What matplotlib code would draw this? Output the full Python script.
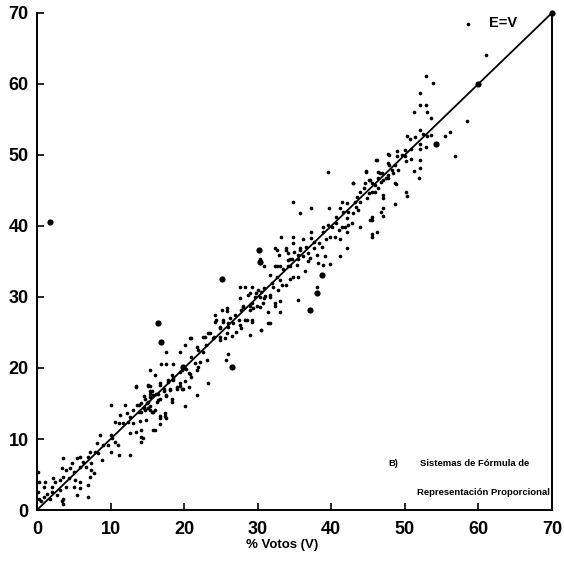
import matplotlib
matplotlib.use("Agg")
import matplotlib.pyplot as plt

# % votos (V) y % escaños (E)
puntos = [
    (13.5, 17.5), (15.3, 17.5), (16.5, 16.4), (14.7, 15.7), (15.4, 15.9), (10.1, 14.8), (11.9, 14.8),
    (13.6, 14.8), (14.2, 13.8), (15.1, 14.4), (16.0, 14.1), (16.3, 15.2), (12.2, 13.6), (12.6, 13.1),
    (11.3, 13.4), (10.6, 12.4), (11.1, 12.2), (11.7, 12.2), (12.4, 12.4), (13.1, 12.2), (13.5, 11.0),
    (12.6, 10.8), (14.2, 11.3), (14.4, 10.1), (14.2, 9.6), (16.0, 11.3), (8.6, 10.6), (10.0, 10.6),
    (10.2, 10.1), (10.6, 9.6), (11.0, 9.2), (9.7, 9.2), (9.0, 9.2), (8.1, 9.4), (7.9, 8.2), (8.3, 8.0),
    (7.2, 8.2), (7.0, 7.5), (8.8, 7.0), (10.0, 8.2), (11.1, 7.8), (12.6, 7.8), (5.8, 7.5), (5.4, 7.3),
    (6.3, 6.8), (4.8, 6.6), (3.6, 7.3), (3.4, 5.9), (4.0, 5.6), (4.5, 5.9), (5.0, 5.4), (5.8, 6.1),
    (7.4, 6.6), (7.4, 5.7), (7.7, 5.2), (7.2, 4.7), (6.7, 6.1), (2.2, 4.5), (2.4, 4.0), (3.1, 4.2),
    (3.6, 4.7), (4.3, 4.5), (5.2, 4.2), (5.8, 4.0), (5.0, 3.3), (4.0, 3.3), (3.1, 2.8), (2.0, 3.3),
    (1.1, 4.0), (0.9, 3.3), (1.3, 2.3), (2.0, 2.6), (2.7, 2.1), (0.9, 1.9), (1.8, 1.6), (3.6, 1.6),
    (3.4, 1.2), (5.4, 2.1), (7.0, 1.9), (7.0, 3.5), (5.8, 3.1), (0.3, 4.0), (0.3, 1.5), (0.6, 1.2),
    (3.5, 0.8), (0.2, 5.3), (0.2, 2.5),
    (24.2, 27.5), (25.1, 28.2), (25.8, 28.0), (24.2, 26.5), (25.3, 26.8), (26.0, 26.3), (23.5, 24.9),
    (24.9, 25.8), (23.9, 24.2), (25.6, 24.2), (24.9, 23.9), (21.0, 24.2), (22.6, 24.4), (21.7, 23.0),
    (23.0, 23.2), (21.9, 22.5), (22.6, 22.3), (17.6, 22.3), (19.4, 22.3), (20.1, 23.2), (21.0, 21.6),
    (16.9, 20.6), (17.6, 20.6), (18.5, 20.6), (19.4, 19.5), (20.6, 19.3), (21.7, 19.7), (22.2, 20.9),
    (23.1, 21.1), (15.4, 19.7), (16.0, 19.0), (17.8, 18.3), (18.5, 18.6), (19.4, 17.9), (20.1, 18.2),
    (20.6, 17.3), (19.0, 17.3), (19.7, 17.1), (16.7, 17.9), (17.2, 17.1), (18.1, 16.9), (17.6, 16.2),
    (18.3, 15.7), (23.3, 17.9), (21.7, 16.2), (15.1, 17.6), (15.4, 16.7), (15.8, 16.2), (14.5, 16.0),
    (14.9, 15.1), (13.8, 14.8), (14.5, 14.3), (15.4, 14.6), (13.5, 17.3), (20.1, 14.6), (13.1, 14.1),
    (13.8, 13.8), (14.7, 14.1), (15.8, 13.8), (16.7, 13.2), (17.4, 13.2), (26.0, 22.0), (25.7, 21.1),
    (34.8, 43.4), (35.7, 41.8), (33.2, 38.5), (34.8, 38.5), (34.8, 37.6), (35.7, 36.9), (36.6, 37.1),
    (32.6, 36.6), (33.9, 36.6), (30.8, 34.3), (32.9, 35.9), (34.1, 35.2), (34.6, 35.4), (35.5, 35.9),
    (36.2, 35.7), (32.6, 34.3), (33.5, 34.0), (34.1, 34.3), (35.3, 34.5), (36.4, 33.6), (36.9, 35.0),
    (34.4, 32.6), (34.8, 32.8), (35.5, 32.8), (32.6, 32.8), (33.0, 32.4), (33.3, 31.7), (32.8, 31.0),
    (31.7, 33.1), (30.8, 31.2), (32.1, 31.4), (27.6, 31.4), (28.3, 31.4), (29.2, 31.4), (30.1, 31.0),
    (30.3, 30.0), (29.6, 30.0), (28.7, 30.3), (27.6, 29.8), (31.7, 30.0), (30.8, 29.8), (33.0, 29.5),
    (35.5, 29.6), (25.8, 28.4), (24.4, 26.7), (25.3, 26.5), (26.2, 27.0), (28.0, 28.7), (28.9, 28.7),
    (27.8, 28.2), (29.2, 29.1), (29.4, 28.4), (29.9, 28.7), (26.9, 27.4), (27.4, 26.7), (26.7, 26.3),
    (27.6, 26.0), (28.5, 26.7), (29.2, 26.5), (31.4, 27.9), (32.3, 28.7), (33.0, 27.9), (31.7, 26.3),
    (30.5, 25.3), (29.0, 24.7), (24.9, 25.6), (26.0, 25.8), (25.8, 24.9), (27.1, 25.1), (20.8, 24.2),
    (22.8, 24.4), (23.3, 24.9), (24.0, 24.4), (24.9, 24.4), (26.5, 24.5),
    (47.7, 50.2), (46.2, 49.3), (47.7, 48.8), (44.7, 47.6), (46.4, 47.6), (46.9, 47.4), (47.7, 47.2),
    (45.3, 46.5), (45.9, 45.8), (47.0, 46.5), (47.5, 46.7), (39.6, 47.6), (43.0, 46.0), (43.9, 44.8),
    (44.4, 45.3), (45.1, 44.6), (45.5, 44.8), (46.0, 44.8), (46.4, 45.3), (44.8, 43.9), (43.5, 44.1),
    (43.2, 43.4), (43.9, 43.4), (47.0, 43.9), (47.1, 42.5), (46.8, 42.0), (45.5, 41.3), (45.3, 40.9),
    (45.5, 38.9), (46.2, 39.1), (45.5, 38.4), (41.4, 43.4), (42.1, 43.3), (41.2, 42.5), (41.6, 42.0),
    (42.3, 42.0), (43.0, 41.8), (43.6, 42.3), (43.4, 42.7), (37.3, 42.5), (39.7, 42.5), (40.7, 41.3),
    (42.1, 41.1), (42.3, 40.1), (41.9, 39.9), (41.4, 39.9), (42.8, 40.4), (43.9, 39.9), (38.9, 39.9),
    (39.6, 40.1), (40.1, 39.9), (40.7, 40.4), (41.0, 39.4), (37.3, 39.2), (38.9, 39.2), (39.8, 38.5),
    (40.5, 38.5), (39.3, 38.1), (41.2, 38.1), (42.1, 39.2), (42.1, 36.9), (36.1, 38.1), (37.3, 38.3),
    (37.7, 37.8), (38.4, 37.6), (38.7, 37.1), (37.7, 36.9), (35.7, 36.6), (34.1, 36.2), (35.0, 36.4),
    (36.9, 36.2), (38.0, 35.9), (39.1, 35.7), (39.8, 34.7), (41.2, 35.7), (32.3, 36.9), (33.9, 36.9),
    (34.4, 35.3), (35.5, 35.3), (37.1, 35.5), (38.2, 34.8), (38.9, 34.5), (34.4, 34.3), (33.0, 34.3),
    (32.3, 34.3), (30.3, 35.3),
    (61.1, 64.1), (52.9, 61.1), (53.8, 60.2), (52.0, 58.7), (52.0, 57.0), (52.9, 57.0), (51.2, 56.0),
    (53.0, 56.0), (53.6, 55.2), (58.5, 54.8), (52.0, 53.5), (52.5, 53.0), (50.7, 52.2), (51.4, 52.5),
    (50.3, 52.6), (53.0, 52.7), (53.5, 52.8), (56.1, 53.3), (55.4, 52.6), (52.0, 51.6), (52.9, 51.1),
    (52.0, 50.8), (50.9, 50.9), (50.0, 50.7), (49.6, 50.0), (48.9, 50.5), (48.9, 49.8), (50.0, 49.8),
    (50.9, 49.5), (52.0, 49.3), (50.2, 49.1), (56.8, 49.9), (46.1, 49.3), (47.9, 50.0), (48.6, 48.6),
    (47.9, 48.6), (48.2, 47.9), (49.1, 47.9), (48.4, 47.4), (46.6, 47.5), (46.3, 46.7), (45.2, 46.5),
    (44.7, 47.7), (47.7, 46.7), (46.8, 46.2), (45.5, 46.1), (43.0, 46.1), (44.6, 46.1), (51.3, 47.7),
    (51.9, 46.7), (52.1, 48.1), (48.6, 46.0), (58.6, 68.4),
    (48.8, 45.9), (47.1, 44.4), (50.2, 44.8), (50.3, 44.2), (48.6, 43.1), (47.0, 41.4), (45.6, 40.8),
    (38.0, 31.4), (33.9, 31.7), (31.9, 32.0), (29.8, 30.5), (30.5, 30.7), (31.0, 30.1), (31.7, 30.3),
    (28.9, 30.5), (28.0, 28.6), (30.3, 28.6), (30.7, 29.1), (32.3, 29.1), (28.9, 28.2), (28.3, 26.7),
    (29.2, 26.8), (31.4, 26.3), (27.8, 25.6), (30.5, 25.4),
    (19.7, 19.7), (20.8, 19.2), (21.0, 18.8), (21.5, 20.7), (21.9, 20.2), (20.3, 19.9), (19.9, 17.0),
    (19.4, 17.4), (18.5, 18.3), (18.3, 19.0), (17.8, 18.0), (18.1, 17.1), (19.0, 17.1), (16.7, 17.6),
    (17.2, 16.7), (17.6, 16.0), (18.3, 15.2), (15.4, 16.4), (15.6, 16.7), (14.2, 15.0), (14.5, 14.5),
    (15.1, 15.2), (15.4, 14.1), (15.6, 13.8), (15.1, 17.4), (16.2, 16.4), (16.5, 15.5), (16.7, 15.7),
    (17.4, 13.6), (16.7, 12.9), (16.7, 12.1), (17.6, 13.0), (15.8, 11.2), (14.0, 12.6), (14.8, 12.7),
    (14.2, 10.3),
]
puntos_grandes = [
    (1.8, 40.6), (16.5, 26.4), (16.9, 23.7), (25.1, 32.5), (26.5, 20.1), (19.9, 20.1), (30.2, 36.6),
    (30.3, 34.9), (38.8, 33.1), (38.1, 30.5), (37.1, 28.2), (54.3, 51.5), (60.0, 60.0), (70.0, 70.0),
]
ticks = [0, 10, 20, 30, 40, 50, 60, 70]

votos = [p[0] for p in puntos]
escanos = [p[1] for p in puntos]
votos_g = [p[0] for p in puntos_grandes]
escanos_g = [p[1] for p in puntos_grandes]

fig = plt.figure(figsize=(5.64, 5.62), dpi=100)
ax = fig.add_axes([0.0656, 0.0925, 0.913, 0.8845])

ax.plot([0, 70], [0, 70], color="black", lw=1.3, zorder=2)
ax.scatter(votos, escanos, s=7, color="black", linewidths=0, zorder=3, clip_on=False)
ax.scatter(votos_g, escanos_g, s=20, color="black", linewidths=0, zorder=3, clip_on=False)

ax.set_xlim(0, 70)
ax.set_ylim(0, 70)
ax.set_xticks(ticks)
ax.set_yticks(ticks)
ax.tick_params(direction="in", length=5, width=1.2, pad=6)
ax.tick_params(axis="x", pad=8)
for lab in ax.get_xticklabels() + ax.get_yticklabels():
    lab.set_fontfamily("Liberation Sans")
    lab.set_fontweight("bold")
    lab.set_fontsize(13)

ax.spines["top"].set_visible(False)
for s in ["left", "bottom", "right"]:
    ax.spines[s].set_linewidth(1.4)

ax.set_xlabel("% Votos (V)", fontsize=9.5, fontweight="bold", family="Liberation Sans")
ax.xaxis.set_label_coords(0.476, -0.058)

ax.text(61.5, 68.6, "E=V", fontsize=10.5, fontweight="bold", family="Liberation Sans", va="center")
fuente = ["Liberation Sans Narrow", "Liberation Sans"]
ax.text(47.7, 6.6, "B)", fontsize=6.8, fontweight="bold", family=fuente, va="center")
ax.text(52.0, 6.6, "Sistemas de Fórmula de", fontsize=6.8, fontweight="bold", family=fuente, va="center")
ax.text(51.7, 2.4, "Representación Proporcional", fontsize=6.8, fontweight="bold", family=fuente, va="center")

fig.savefig("out.png", dpi=100)
